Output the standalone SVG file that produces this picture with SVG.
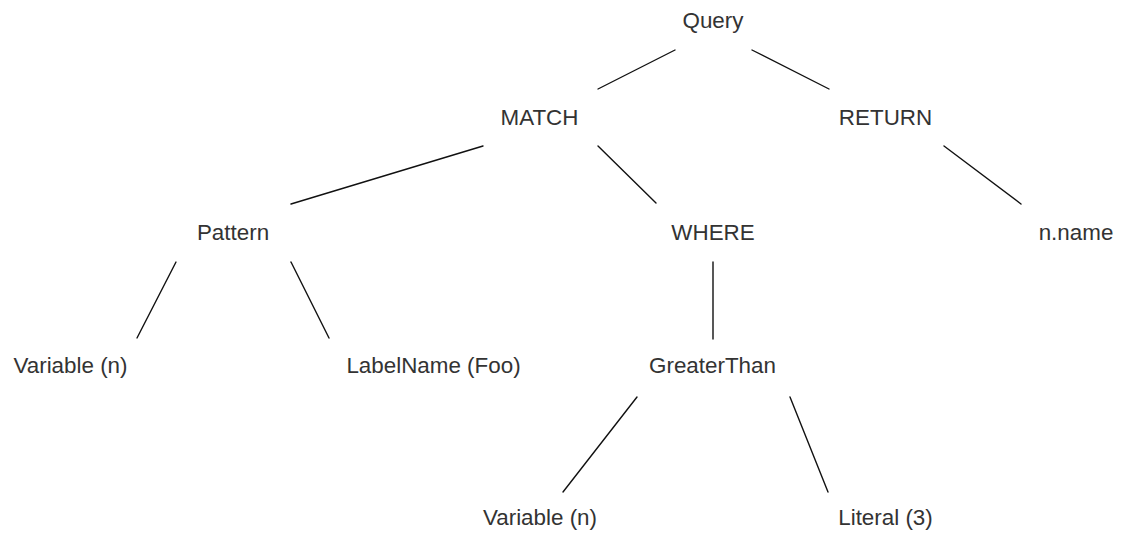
<svg xmlns="http://www.w3.org/2000/svg" width="1122" height="533" viewBox="0 0 1122 533">
<style>
.lbl{font-family:"Liberation Sans",Arial,sans-serif;font-size:22.4px;fill:#333;text-anchor:middle}
.edge{stroke:#111;stroke-width:1.4;fill:none;stroke-linecap:round}
</style>
<rect width="1122" height="533" fill="#fff"/>
<g id="connectors">
<line class="edge" x1="675" y1="50" x2="598" y2="89"/>
<line class="edge" x1="752" y1="50" x2="829" y2="89"/>
<line class="edge" x1="483" y1="146" x2="291" y2="204"/>
<line class="edge" x1="598" y1="146" x2="656" y2="203"/>
<line class="edge" x1="944" y1="146" x2="1021" y2="204"/>
<line class="edge" x1="176" y1="262" x2="137" y2="338"/>
<line class="edge" x1="291" y1="262" x2="329" y2="338"/>
<line class="edge" x1="713" y1="262" x2="713" y2="339"/>
<line class="edge" x1="637" y1="397" x2="563" y2="492"/>
<line class="edge" x1="790" y1="397" x2="828" y2="492"/>
</g>
<g id="query"><text class="lbl" x="713" y="28">Query</text></g>
<g id="match"><text class="lbl" x="539.5" y="125">MATCH</text></g>
<g id="return"><text class="lbl" x="885.5" y="125">RETURN</text></g>
<g id="pattern"><text class="lbl" x="233" y="240">Pattern</text></g>
<g id="where"><text class="lbl" x="713" y="240">WHERE</text></g>
<g id="nname"><text class="lbl" x="1076" y="240">n.name</text></g>
<g id="variable1"><text class="lbl" x="70.5" y="373">Variable (n)</text></g>
<g id="labelname"><text class="lbl" x="433.5" y="373">LabelName (Foo)</text></g>
<g id="greaterthan"><text class="lbl" x="712.5" y="373">GreaterThan</text></g>
<g id="variable2"><text class="lbl" x="540" y="525">Variable (n)</text></g>
<g id="literal"><text class="lbl" x="885.5" y="525">Literal (3)</text></g>
</svg>
